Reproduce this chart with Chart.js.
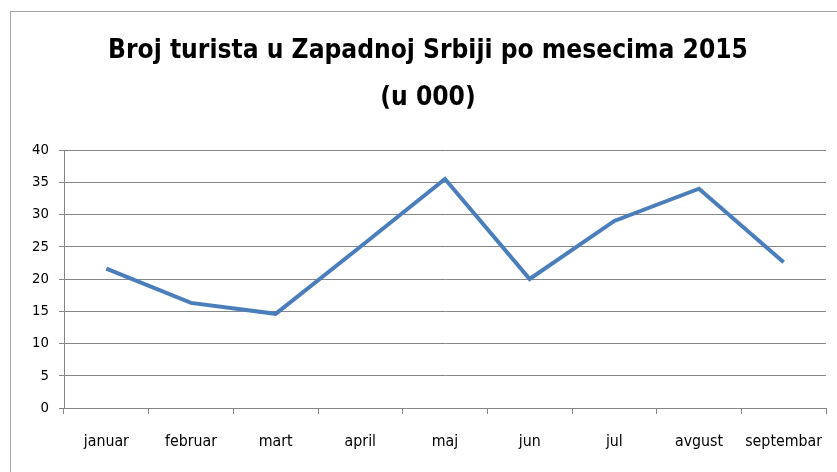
<!DOCTYPE html>
<html>
<head>
<meta charset="utf-8">
<script src="https://cdn.jsdelivr.net/npm/chart.js@4.4.1/dist/chart.umd.min.js"></script>
<style>
  html, body { margin: 0; padding: 0; background: #fff; overflow: hidden; }
  #wrap { position: relative; width: 837px; height: 472px; }
  #frame { position: absolute; left: 10px; top: 11px; width: 900px; height: 500px; border: 1px solid #a6a6a6; box-sizing: border-box; pointer-events: none; }
  canvas { position: absolute; left: 0; top: 0; }
</style>
</head>
<body>
<div id="wrap">
  <canvas id="c" width="837" height="472"></canvas>
  <div id="frame"></div>
</div>
<script>
const categories = ['januar', 'februar', 'mart', 'april', 'maj', 'jun', 'jul', 'avgust', 'septembar'];
const touristValues = [21.6, 16.3, 14.6, 25, 35.5, 20, 29, 34, 22.6];
const yTicks = [0, 5, 10, 15, 20, 25, 30, 35, 40];
const titleLines = ['Broj turista u Zapadnoj Srbiji po mesecima 2015', '(u 000)'];

const FONT = '"Liberation Sans Narrow", "DejaVu Sans Condensed", "Roboto Condensed", sans-serif';

// fit title size to reference width (~640px)
const mctx = document.createElement('canvas').getContext('2d');
let titleSize = 34;
mctx.font = 'bold ' + titleSize + 'px ' + FONT;
const w = mctx.measureText(titleLines[0]).width;
titleSize = Math.max(20, Math.min(36, titleSize * 640 / w));

let labelSize = 14;
mctx.font = labelSize + 'px ' + FONT;
const lw = mctx.measureText('septembar').width;
labelSize = Math.max(10, Math.min(18, labelSize * 77 / lw));

const shiftTitle = {
  id: 'shiftTitle',
  afterLayout(chart) {
    const t = chart.titleBlock;
    if (t) { t.left += 30; }
  }
};

new Chart(document.getElementById('c'), {
  type: 'line',
  data: {
    labels: categories,
    datasets: [{
      data: touristValues,
      borderColor: '#4a7ebb',
      borderWidth: 4,
      pointRadius: 0,
      tension: 0,
      fill: false,
      borderJoinStyle: 'miter'
    }]
  },
  plugins: [shiftTitle],
  options: {
    responsive: false,
    animation: false,
    layout: { padding: { left: 0, right: 11, top: 0, bottom: 0 } },
    plugins: {
      legend: { display: false },
      tooltip: { enabled: false },
      title: {
        display: true,
        text: titleLines,
        color: '#000',
        font: { family: FONT, size: titleSize, weight: 'bold', lineHeight: 47 / titleSize },
        padding: { top: 28, bottom: 28 }
      }
    },
    scales: {
      x: {
        offset: true,
        grid: { offset: true, drawOnChartArea: false, drawTicks: true, tickLength: 6, color: '#868686' },
        border: { color: '#868686', width: 1 },
        ticks: { color: '#000', font: { family: FONT, size: labelSize }, padding: 18, maxRotation: 0, autoSkip: false },
        afterFit: s => { s.height = 64; s.paddingLeft = 0; s.paddingRight = 0; }
      },
      y: {
        min: 0,
        max: 40,
        afterBuildTicks: s => { s.ticks = yTicks.map(v => ({ value: v })); },
        grid: { color: '#868686', tickLength: 5 },
        border: { color: '#868686', width: 1 },
        ticks: { color: '#000', font: { family: FONT, size: labelSize - 1 }, padding: 10 },
        afterFit: s => { s.width = 64; }
      }
    }
  }
});
</script>
</body>
</html>
